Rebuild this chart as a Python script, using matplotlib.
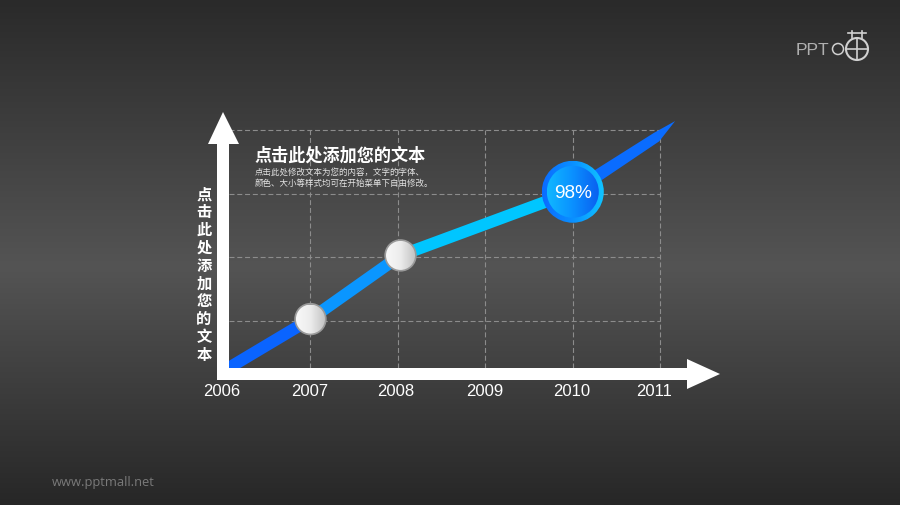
import numpy as np
import matplotlib
matplotlib.use('Agg')
import matplotlib.pyplot as plt
from matplotlib.colors import LinearSegmentedColormap
from matplotlib.patches import Circle, Polygon

plt.rcParams['font.family'] = ['Liberation Sans', 'Noto Sans CJK SC', 'DejaVu Sans']

# data
years = [2006, 2007, 2008, 2009, 2010, 2011]
line_x = [2006.0, 2007.0, 2008.03, 2010.0]
line_y = [0.21, 1.03, 2.03, 3.03]
tip_x = 2011.17
tip_y = 4.14
shoulder_x = 2010.95
shoulder_y = 3.9
marker_x = [2007.0, 2008.03]
marker_y = [1.03, 2.03]
peak_label = '98%'
y_grid = [1, 2, 3, 4]

title = '点击此处添加您的文本'
body = ['点击此处修改文本为您的内容，文字的字体、', '颜色、大小等样式均可在开始菜单下自由修改。']
y_title = list('点击此处添加您的文本')

W, H = 900, 506
X_PER_YEAR = 87.45
Y_PER_UNIT = 63.67

fig = plt.figure(figsize=(9, 5.06), dpi=100)

# background
bg = fig.add_axes([0, 0, 1, 1], zorder=0)
bg_cmap = LinearSegmentedColormap.from_list('bg', [(0, '#2a2a2a'), (0.53, '#545454'), (1, '#272727')])
bg.imshow(np.linspace(0, 1, 256)[:, None], aspect='auto', cmap=bg_cmap, extent=[0, W, H, 0])
bg.axis('off')

# data axes cover the whole figure so that year/value map onto pixels
ax = fig.add_axes([0, 0, 1, 1], zorder=1)
ax.patch.set_alpha(0)
ax.set_xlim(2006 - 223 / X_PER_YEAR, 2006 + (W - 223) / X_PER_YEAR)
ax.set_ylim(1 - (H - 322) / Y_PER_UNIT, 1 + 322 / Y_PER_UNIT)
ax.axis('off')


def to_px(x, y):
    px, py = ax.transData.transform((x, y))
    return px, H - py


y_bottom = 1 - (369 - 322) / Y_PER_UNIT
grid_left = 2006 + (229 - 223) / X_PER_YEAR
for yr in years[1:]:
    ax.plot([yr, yr], [y_bottom, y_grid[-1]], color='#8c8c8c', lw=0.8, dashes=(4.5, 2.5))
for v in y_grid:
    ax.plot([grid_left, years[-1]], [v, v], color='#8c8c8c', lw=0.8, dashes=(4.5, 2.5))

# trend line, one colour per stretch
seg_colors = ['#0a64ff', '#0a96ff', '#00c6ff']
for i, c in enumerate(seg_colors):
    ax.plot(line_x[i:i + 2], line_y[i:i + 2], color=c, lw=8.6, solid_capstyle='butt')

# overlay in pixels for the decorated shapes
ov = fig.add_axes([0, 0, 1, 1], zorder=2)
ov.patch.set_alpha(0)
ov.set_xlim(0, W)
ov.set_ylim(H, 0)
ov.axis('off')

# tapered last stretch
x0, y0 = to_px(line_x[-1], line_y[-1])
x1, y1 = to_px(shoulder_x, shoulder_y)
x2, y2 = to_px(tip_x, tip_y)
d = np.array([x1 - x0, y1 - y0])
n = np.array([-d[1], d[0]]) / np.hypot(*d)
tail = [(x0 + n[0] * 6.5, y0 + n[1] * 6.5), (x1 + n[0] * 6, y1 + n[1] * 6), (x2, y2),
        (x1 - n[0] * 4, y1 - n[1] * 4), (x0 - n[0] * 6.5, y0 - n[1] * 6.5)]
ov.add_patch(Polygon(tail, closed=True, fc='#0a6cff', ec='none'))

# white axis arrows
ov.add_patch(Polygon([(217, 381), (217, 145), (208, 145), (223, 113), (239, 145), (229, 145), (229, 369),
                      (687, 369), (687, 360), (720, 375), (687, 390), (687, 381)],
                     closed=True, fc='white', ec='none'))


def grad_disc(cx, cy, r, colors):
    g = np.linspace(0, 1, 128)[None, :]
    cmap = LinearSegmentedColormap.from_list('d', colors)
    im = ov.imshow(g, cmap=cmap, extent=[cx - r, cx + r, cy + r, cy - r], aspect='auto', zorder=4)
    im.set_clip_path(Circle((cx, cy), r, transform=ov.transData))


# grey markers
for mx, my in zip(marker_x, marker_y):
    cx, cy = to_px(mx, my)
    ov.add_patch(Circle((cx, cy), 16.2, fc='#9a9a9a', ec='none', zorder=3))
    grad_disc(cx, cy, 14.5, ['#f8f8f8', '#ececec', '#c4c4c4'])

# peak badge
cx, cy = to_px(line_x[-1], line_y[-1])
grad_disc(cx, cy, 31, ['#0a6cff', '#0a90ff', '#10c4ff'])
grad_disc(cx, cy, 26, ['#10b8ff', '#0a90ff', '#0a60f0'])
ov.set_xlim(0, W)
ov.set_ylim(H, 0)
ov.text(cx, cy + 1, peak_label, color='white', fontsize=13.7, ha='center', va='center', zorder=6)

# tick labels, the picture has them slightly off the grid
tick_nudge = [-1, -0.5, -2.5, -0.5, -1.5, -6]
for yr, dx in zip(years, tick_nudge):
    px, _ = to_px(yr, 0)
    ov.text(px + dx, 392, str(yr), color='white', fontsize=12, ha='center', va='center')

# texts
ov.text(254.5, 155, title, color='white', fontsize=12.3, fontweight='bold', va='center')
for i, line in enumerate(body):
    ov.text(255, 172.5 + i * 11, line, color='#e4e4e4', fontsize=6.1, va='center')
for i, ch in enumerate(y_title):
    ov.text(204, 195 + i * 17.9, ch, color='white', fontsize=11, fontweight='bold', ha='center', va='center')

ov.text(52, 483, 'www.pptmall.net', color='#7a7a7a', fontsize=9.3, va='center', family='Open Sans')

# logo
logo = '#d0d0d0'
ov.text(796, 50, 'PPT', color=logo, fontsize=12.5, va='center', family='Liberation Sans', alpha=0.8)
ov.add_patch(Circle((838, 50), 5.5, fc='none', ec=logo, lw=1.1))
ov.add_patch(Circle((857, 50), 11, fc='none', ec=logo, lw=1.5))
ov.plot([857, 857], [39, 61], color=logo, lw=1.2)
ov.plot([846, 868], [50, 50], color=logo, lw=1.2)
ov.plot([848, 866], [34, 34], color=logo, lw=1.2)
ov.plot([852, 852], [32, 39], color=logo, lw=1.2)
ov.plot([862, 862], [32, 39], color=logo, lw=1.2)

fig.savefig('out.png', dpi=100)
